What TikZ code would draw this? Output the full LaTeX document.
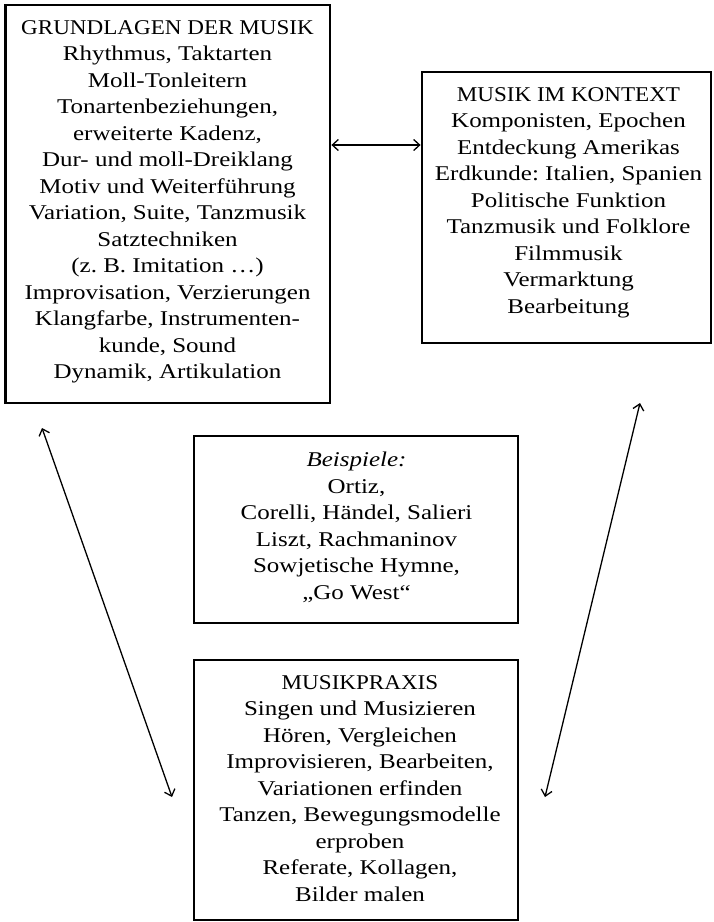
\documentclass[tikz,border=0pt]{standalone}
\usepackage{fontspec}
\setmainfont{Liberation Serif}[FakeStretch=1.19]
\newfontfamily\headfont{Liberation Serif}[FakeStretch=1.10]
\usetikzlibrary{arrows.meta}
\frenchspacing
\begin{document}
\begin{tikzpicture}[x=1pt,y=-1pt,
  frame/.style={draw, line width=2.8pt, inner sep=0pt},
  txt/.style={align=center, inner sep=0pt, anchor=north, font=\fontsize{21}{26.5}\selectfont},
  arr/.style={line width=1.3pt, {Straight Barb[length=6pt,width=11pt]}-{Straight Barb[length=6pt,width=11pt]}}]
\useasboundingbox (0,0) rectangle (713,922);
% boxes
\node[frame, minimum width=324.5pt, minimum height=398pt] (grund) at (167.75,204) {};
\node[frame, minimum width=289pt, minimum height=271pt] (kontext) at (566.5,207.5) {};
\node[frame, minimum width=324pt, minimum height=187pt] (beisp) at (356,529.5) {};
\node[frame, minimum width=324pt, minimum height=260pt] (praxis) at (356,790) {};
% texts
\node[txt] (grundtxt) at (167.5,20) {{\headfont GRUNDLAGEN DER MUSIK}\\Rhythmus, Taktarten\\Moll-Tonleitern\\Tonartenbeziehungen,\\erweiterte Kadenz,\\Dur- und moll-Dreiklang\\Motiv und Weiterführung\\Variation, Suite, Tanzmusik\\Satztechniken\\(z.~B. Imitation …)\\Improvisation, Verzierungen\\Klangfarbe, Instrumenten-\\kunde, Sound\\Dynamik, Artikulation};
\node[txt] (kontexttxt) at (568.5,87) {{\headfont MUSIK IM KONTEXT}\\Komponisten, Epochen\\Entdeckung Amerikas\\Erdkunde: Italien, Spanien\\Politische Funktion\\Tanzmusik und Folklore\\Filmmusik\\Vermarktung\\Bearbeitung};
\node[txt] (beisptxt) at (356.5,452) {\textit{Beispiele:}\\Ortiz,\\Corelli, Händel, Salieri\\Liszt, Rachmaninov\\Sowjetische Hymne,\\„Go West“};
\node[txt] (praxistxt) at (360,675) {{\headfont MUSIKPRAXIS}\\Singen und Musizieren\\Hören, Vergleichen\\Improvisieren, Bearbeiten,\\Variationen erfinden\\Tanzen, Bewegungsmodelle\\erproben\\Referate, Kollagen,\\Bilder malen};
% connectors
\coordinate (lt) at (42,428);
\coordinate (lb) at (172,797);
\coordinate (rt) at (640,403);
\coordinate (rb) at (545,797);
\draw[arr] (grund.east |- 0,145) -- (kontext.west |- 0,145);
\draw[arr] (lt) -- (lb);
\draw[arr] (rt) -- (rb);
\end{tikzpicture}
\end{document}
